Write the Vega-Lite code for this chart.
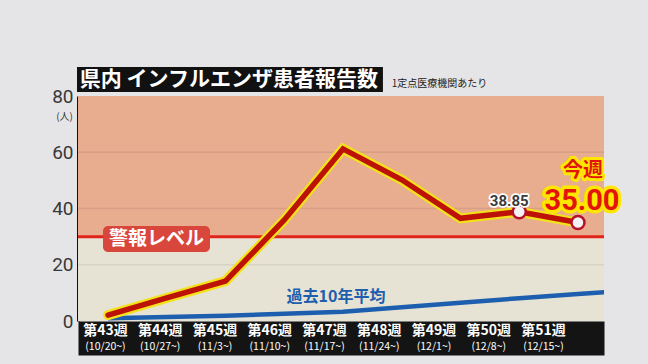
{
  "$schema": "https://vega.github.io/schema/vega-lite/v6.json",
  "width": 526,
  "height": 225,
  "autosize": "none",
  "padding": {"left": 78, "top": 96, "right": 44, "bottom": 43},
  "background": "#e5e5e7",
  "config": {"view": {"stroke": null}},
  "datasets": {
    "weeks": [
      {"wk": 43, "cases": 2.1, "avg": 1.0},
      {"wk": 44, "cases": 8.2, "avg": 1.4},
      {"wk": 45, "cases": 14.2, "avg": 1.9},
      {"wk": 46, "cases": 35.9, "avg": 2.6},
      {"wk": 47, "cases": 61.2, "avg": 3.3},
      {"wk": 48, "cases": 50.2, "avg": 4.9},
      {"wk": 49, "cases": 36.5, "avg": 6.5},
      {"wk": 50, "cases": 38.85, "avg": 8.1},
      {"wk": 51, "cases": 35.0, "avg": 9.6},
      {"wk": 52, "avg": 11.1}
    ]
  },
  "layer": [
    {
      "data": {"values": [{"lo": 0, "hi": 30, "zone": "通常"}, {"lo": 30, "hi": 80, "zone": "警報"}]},
      "mark": {"type": "rect"},
      "encoding": {
        "y": {"field": "lo", "type": "quantitative", "scale": {"domain": [0, 80], "nice": false, "zero": false},
          "axis": {"orient": "left", "values": [0, 20, 40, 60, 80], "grid": false, "ticks": false, "domain": true, "domainColor": "#111111", "domainWidth": 3,
            "labelFont": "Roboto", "labelFontSize": 19, "labelColor": "#383838", "labelPadding": 5,
            "title": "(人)", "titleAngle": 0, "titleFont": "Noto Sans CJK JP", "titleFontSize": 10, "titleFontWeight": "normal", "titleColor": "#383838",
            "titleX": -14, "titleY": 20, "titleAlign": "center", "titleBaseline": "middle"}},
        "y2": {"field": "hi"},
        "color": {"field": "zone", "type": "nominal", "scale": {"domain": ["通常", "警報"], "range": ["#e7e3d4", "#e8ac8f"]}, "legend": null}
      }
    },
    {
      "data": {"values": [{"lo": 20}, {"lo": 40}, {"lo": 60}]},
      "mark": {"type": "rule", "color": "#000000", "opacity": 0.07, "strokeWidth": 1.5},
      "encoding": {
        "y": {"field": "lo", "type": "quantitative", "scale": {"domain": [0, 80], "nice": false, "zero": false}}
      }
    },
    {
      "data": {"values": [{"lo": 30}]},
      "mark": {"type": "rule", "color": "#e2231a", "strokeWidth": 3},
      "encoding": {"y": {"field": "lo", "type": "quantitative", "scale": {"domain": [0, 80], "nice": false, "zero": false}}}
    },
    {
      "data": {"values": [{"x1": 42.915, "x2": 44.736, "lo": 24.5, "hi": 33.8, "xc": 43.826, "yc": 29.2, "label": "警報レベル"}]},
      "layer": [
        {
          "mark": {"type": "rect", "color": "#d9463b", "cornerRadius": 5},
          "encoding": {
            "x": {"field": "x1", "type": "quantitative", "scale": {"domain": [42.489, 51.443], "nice": false, "zero": false}, "axis": null},
            "x2": {"field": "x2"},
            "y": {"field": "lo", "type": "quantitative", "scale": {"domain": [0, 80], "nice": false, "zero": false}},
            "y2": {"field": "hi"}
          }
        },
        {
          "mark": {"type": "text", "color": "white", "font": "Noto Sans CJK JP", "fontWeight": "bold", "fontSize": 19, "align": "center", "baseline": "middle"},
          "encoding": {
            "x": {"field": "xc", "type": "quantitative", "scale": {"domain": [42.489, 51.443], "nice": false, "zero": false}, "axis": null},
            "y": {"field": "yc", "type": "quantitative", "scale": {"domain": [0, 80], "nice": false, "zero": false}},
            "text": {"field": "label"}
          }
        }
      ]
    },
    {
      "data": {"name": "weeks"},
      "mark": {"type": "line", "color": "#1d5fae", "strokeWidth": 4.5, "clip": true, "strokeCap": "butt"},
      "encoding": {
        "x": {"field": "wk", "type": "quantitative", "scale": {"domain": [42.489, 51.443], "nice": false, "zero": false}, "axis": null},
        "y": {"field": "avg", "type": "quantitative", "scale": {"domain": [0, 80], "nice": false, "zero": false}}
      }
    },
    {
      "data": {"values": [{"x": 46.88, "y": 8.6, "label": "過去10年平均"}]},
      "mark": {"type": "text", "color": "#1d5fae", "font": "Noto Sans CJK JP", "fontWeight": "bold", "fontSize": 16, "align": "center", "baseline": "middle"},
      "encoding": {
        "x": {"field": "x", "type": "quantitative", "scale": {"domain": [42.489, 51.443], "nice": false, "zero": false}, "axis": null},
        "y": {"field": "y", "type": "quantitative", "scale": {"domain": [0, 80], "nice": false, "zero": false}},
        "text": {"field": "label"}
      }
    },
    {
      "data": {"name": "weeks"},
      "transform": [{"filter": "isValid(datum.cases)"}],
      "layer": [
        {
          "mark": {"type": "line", "color": "#f3e21b", "strokeWidth": 10, "strokeJoin": "miter", "strokeCap": "round"},
          "encoding": {
            "x": {"field": "wk", "type": "quantitative", "scale": {"domain": [42.489, 51.443], "nice": false, "zero": false}, "axis": null},
            "y": {"field": "cases", "type": "quantitative", "scale": {"domain": [0, 80], "nice": false, "zero": false}}
          }
        },
        {
          "mark": {"type": "line", "color": "#bd1208", "strokeWidth": 5.5, "strokeJoin": "miter", "strokeCap": "round"},
          "encoding": {
            "x": {"field": "wk", "type": "quantitative", "scale": {"domain": [42.489, 51.443], "nice": false, "zero": false}, "axis": null},
            "y": {"field": "cases", "type": "quantitative", "scale": {"domain": [0, 80], "nice": false, "zero": false}}
          }
        },
        {
          "transform": [{"filter": "datum.wk >= 50"}],
          "mark": {"type": "point", "filled": true, "fill": "#f4f1f4", "stroke": "#b5122a", "strokeWidth": 2.5, "size": 170, "opacity": 1},
          "encoding": {
            "x": {"field": "wk", "type": "quantitative", "scale": {"domain": [42.489, 51.443], "nice": false, "zero": false}, "axis": null},
            "y": {"field": "cases", "type": "quantitative", "scale": {"domain": [0, 80], "nice": false, "zero": false}}
          }
        },
        {
          "transform": [{"filter": "datum.wk == 50"}],
          "layer": [
            {
              "mark": {"type": "text", "font": "Roboto", "fontSize": 15, "fontWeight": "bold", "color": "white", "stroke": "white", "strokeWidth": 3.5, "strokeJoin": "round", "align": "center", "baseline": "middle", "dx": -10, "dy": -11},
              "encoding": {
                "x": {"field": "wk", "type": "quantitative", "scale": {"domain": [42.489, 51.443], "nice": false, "zero": false}, "axis": null},
                "y": {"field": "cases", "type": "quantitative", "scale": {"domain": [0, 80], "nice": false, "zero": false}},
                "text": {"field": "cases", "format": ".2f"}
              }
            },
            {
              "mark": {"type": "text", "font": "Roboto", "fontSize": 15, "fontWeight": "bold", "color": "#3a3a3a", "align": "center", "baseline": "middle", "dx": -10, "dy": -11},
              "encoding": {
                "x": {"field": "wk", "type": "quantitative", "scale": {"domain": [42.489, 51.443], "nice": false, "zero": false}, "axis": null},
                "y": {"field": "cases", "type": "quantitative", "scale": {"domain": [0, 80], "nice": false, "zero": false}},
                "text": {"field": "cases", "format": ".2f"}
              }
            }
          ]
        },
        {
          "transform": [{"filter": "datum.wk == 51"}],
          "layer": [
            {
              "mark": {"type": "text", "font": "Noto Sans CJK JP", "fontSize": 20, "fontWeight": "bold", "color": "#ffe600", "stroke": "#ffe600", "strokeWidth": 6, "strokeJoin": "round", "align": "center", "baseline": "middle", "dx": 5, "dy": -52},
              "encoding": {
                "x": {"field": "wk", "type": "quantitative", "scale": {"domain": [42.489, 51.443], "nice": false, "zero": false}, "axis": null},
                "y": {"field": "cases", "type": "quantitative", "scale": {"domain": [0, 80], "nice": false, "zero": false}},
                "text": {"value": "今週"}
              }
            },
            {
              "mark": {"type": "text", "font": "Noto Sans CJK JP", "fontSize": 20, "fontWeight": "bold", "color": "#e3140c", "align": "center", "baseline": "middle", "dx": 5, "dy": -52},
              "encoding": {
                "x": {"field": "wk", "type": "quantitative", "scale": {"domain": [42.489, 51.443], "nice": false, "zero": false}, "axis": null},
                "y": {"field": "cases", "type": "quantitative", "scale": {"domain": [0, 80], "nice": false, "zero": false}},
                "text": {"value": "今週"}
              }
            },
            {
              "mark": {"type": "text", "font": "Roboto", "fontSize": 29, "fontWeight": "bold", "color": "#ffe600", "stroke": "#ffe600", "strokeWidth": 7, "strokeJoin": "round", "align": "center", "baseline": "middle", "dx": 4, "dy": -22},
              "encoding": {
                "x": {"field": "wk", "type": "quantitative", "scale": {"domain": [42.489, 51.443], "nice": false, "zero": false}, "axis": null},
                "y": {"field": "cases", "type": "quantitative", "scale": {"domain": [0, 80], "nice": false, "zero": false}},
                "text": {"field": "cases", "format": ".2f"}
              }
            },
            {
              "mark": {"type": "text", "font": "Roboto", "fontSize": 29, "fontWeight": "bold", "color": "#e3140c", "align": "center", "baseline": "middle", "dx": 4, "dy": -22},
              "encoding": {
                "x": {"field": "wk", "type": "quantitative", "scale": {"domain": [42.489, 51.443], "nice": false, "zero": false}, "axis": null},
                "y": {"field": "cases", "type": "quantitative", "scale": {"domain": [0, 80], "nice": false, "zero": false}},
                "text": {"field": "cases", "format": ".2f"}
              }
            }
          ]
        }
      ]
    },
    {
      "data": {"values": [{"x1": 42.472, "x2": 47.68, "lo": 81.4, "hi": 90.3, "tx": 42.52, "ty": 85.8, "title": "県内 インフルエンザ患者報告数", "sx": 47.83, "sy": 84.1, "sub": "1定点医療機関あたり"}]},
      "layer": [
        {
          "mark": {"type": "rect", "color": "#111111"},
          "encoding": {
            "x": {"field": "x1", "type": "quantitative", "scale": {"domain": [42.489, 51.443], "nice": false, "zero": false}, "axis": null},
            "x2": {"field": "x2"},
            "y": {"field": "lo", "type": "quantitative", "scale": {"domain": [0, 80], "nice": false, "zero": false}},
            "y2": {"field": "hi"}
          }
        },
        {
          "mark": {"type": "text", "color": "white", "font": "Noto Sans CJK JP", "fontWeight": "bold", "fontSize": 21, "align": "left", "baseline": "middle"},
          "encoding": {
            "x": {"field": "tx", "type": "quantitative", "scale": {"domain": [42.489, 51.443], "nice": false, "zero": false}, "axis": null},
            "y": {"field": "ty", "type": "quantitative", "scale": {"domain": [0, 80], "nice": false, "zero": false}},
            "text": {"field": "title"}
          }
        },
        {
          "mark": {"type": "text", "color": "#222222", "font": "Noto Sans CJK JP", "fontSize": 10, "align": "left", "baseline": "middle"},
          "encoding": {
            "x": {"field": "sx", "type": "quantitative", "scale": {"domain": [42.489, 51.443], "nice": false, "zero": false}, "axis": null},
            "y": {"field": "sy", "type": "quantitative", "scale": {"domain": [0, 80], "nice": false, "zero": false}},
            "text": {"field": "sub"}
          }
        }
      ]
    },
    {
      "data": {"name": "weeks"},
      "transform": [{"filter": "datum.wk <= 51"}],
      "mark": {"type": "point", "opacity": 0},
      "encoding": {
        "x": {"field": "wk", "type": "quantitative", "scale": {"domain": [42.507, 52.114], "nice": false, "zero": false},
          "axis": {"orient": "bottom", "labels": false, "offset": 17, "ticks": false, "grid": false, "domain": true, "domainColor": "#141414", "domainWidth": 34, "title": null}}
      }
    },
    {
      "data": {"name": "weeks"},
      "transform": [{"filter": "datum.wk <= 51"}],
      "mark": {"type": "point", "opacity": 0},
      "encoding": {
        "x": {"field": "wk", "type": "quantitative", "scale": {"domain": [42.507, 52.114], "nice": false, "zero": false},
          "axis": {"orient": "bottom", "values": [43, 44, 45, 46, 47, 48, 49, 50, 51], "labelExpr": "'第' + datum.value + '週'",
            "labelColor": "white", "labelFont": "Noto Sans CJK JP", "labelFontSize": 14, "labelFontWeight": "bold", "labelPadding": 2,
            "ticks": false, "grid": false, "domain": false,
            "labelFlush": false, "labelOverlap": false, "labelBound": false, "title": null}}
      }
    },
    {
      "data": {"name": "weeks"},
      "transform": [{"filter": "datum.wk <= 51"}],
      "mark": {"type": "point", "opacity": 0},
      "encoding": {
        "x": {"field": "wk", "type": "quantitative", "scale": {"domain": [42.507, 52.114], "nice": false, "zero": false},
          "axis": {"orient": "bottom", "values": [43, 44, 45, 46, 47, 48, 49, 50, 51],
            "labelExpr": "['(10/20~)','(10/27~)','(11/3~)','(11/10~)','(11/17~)','(11/24~)','(12/1~)','(12/8~)','(12/15~)'][datum.value - 43]",
            "labelColor": "white", "labelFont": "Noto Sans CJK JP", "labelFontSize": 10.5, "labelPadding": 20,
            "ticks": false, "grid": false, "domain": false,
            "labelFlush": false, "labelOverlap": false, "labelBound": false, "title": null}}
      }
    }
  ],
  "resolve": {"scale": {"x": "independent"}, "axis": {"x": "independent"}}
}
